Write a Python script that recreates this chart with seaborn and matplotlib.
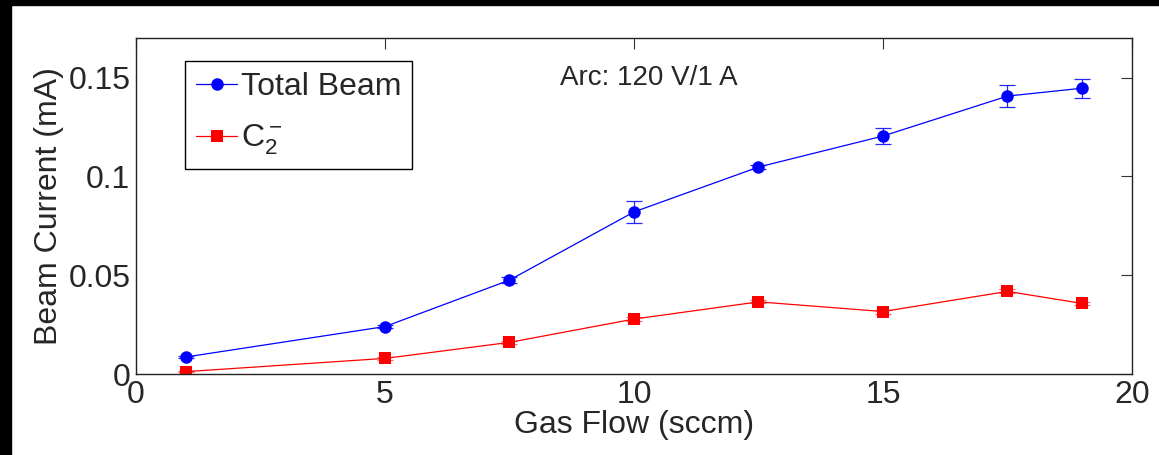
import matplotlib
matplotlib.use("Agg")
import matplotlib.pyplot as plt
import seaborn as sns
import pandas as pd
from matplotlib.patches import Rectangle

# values
gas_flow = [1, 5, 7.5, 10, 12.5, 15, 17.5, 19]
total_beam = [0.0086, 0.0240, 0.0475, 0.0820, 0.1047, 0.1204, 0.1406, 0.1446]
total_beam_err = [0.0006, 0.0008, 0.0016, 0.0056, 0.0012, 0.0042, 0.0054, 0.0049]
c2_beam = [0.0012, 0.0079, 0.0160, 0.0278, 0.0365, 0.0316, 0.0418, 0.0357]
c2_beam_err = [0.0004, 0.0006, 0.0008, 0.0012, 0.0008, 0.0010, 0.0010, 0.0008]

x_ticks = [0, 5, 10, 15, 20]
y_ticks = [0, 0.05, 0.1, 0.15]
y_tick_labels = ["0", "0.05", "0.1", "0.15"]

sns.set_style("white")
plt.rcParams["font.family"] = ["Liberation Sans", "DejaVu Sans"]
plt.rcParams["mathtext.fontset"] = "custom"
plt.rcParams["mathtext.rm"] = "Liberation Sans"
plt.rcParams["mathtext.it"] = "Liberation Sans"

FONT_SIZE = 23
C2_LABEL = r"$\mathregular{C_2^-}$"

df = pd.DataFrame({
    "flow": gas_flow * 2,
    "current": total_beam + c2_beam,
    "series": ["Total Beam"] * len(gas_flow) + [C2_LABEL] * len(gas_flow),
})

fig = plt.figure(figsize=(11.59, 4.55), dpi=100)
ax = fig.add_axes([0.1173, 0.178, 0.8594, 0.7385])

palette = {"Total Beam": "#0000ff", C2_LABEL: "#ff0000"}
sns.lineplot(
    data=df, x="flow", y="current", hue="series", style="series",
    palette=palette, markers={"Total Beam": "o", C2_LABEL: "s"},
    dashes=False, linewidth=0.9, markersize=9, markeredgewidth=0,
    ax=ax,
)
# error bars
ax.errorbar(gas_flow, total_beam, yerr=total_beam_err, fmt="none",
            ecolor="#0000ff", elinewidth=0.9, capsize=6, capthick=0.9, alpha=0.85)
ax.errorbar(gas_flow, c2_beam, yerr=c2_beam_err, fmt="none",
            ecolor="#ff0000", elinewidth=0.9, capsize=6, capthick=0.9, alpha=0.6)

ax.set_xlim(0, 20)
ax.set_ylim(0, 0.17)
ax.set_xticks(x_ticks)
ax.set_yticks(y_ticks)
ax.set_yticklabels(y_tick_labels)
ax.tick_params(direction="in", length=8, width=0.8, labelsize=FONT_SIZE,
               top=True, right=True, pad=4, color="#333333")
for sp in ax.spines.values():
    sp.set_visible(True)
    sp.set_color("#222222")
    sp.set_linewidth(1.0)

ax.set_xlabel("Gas Flow (sccm)", fontsize=FONT_SIZE, labelpad=0)
ax.set_ylabel("Beam Current (mA)", fontsize=FONT_SIZE, labelpad=3)

ax.text(10.3, 0.150, "Arc: 120 V/1 A", fontsize=20, ha="center", va="center")

leg = ax.legend(loc="upper left", bbox_to_anchor=(0.049, 0.9315), borderaxespad=0,
                fontsize=FONT_SIZE, frameon=True, fancybox=False, handlelength=1.3,
                handletextpad=0.1, borderpad=0.35, labelspacing=0.65, title=None)
leg.get_frame().set_edgecolor("black")
leg.get_frame().set_linewidth(1.0)
leg.get_frame().set_alpha(1)

# black strips at the top and left edge of the screenshot
fig.patches.append(Rectangle((0, 1 - 5 / 455), 1, 5 / 455, transform=fig.transFigure,
                             color="black", zorder=10))
fig.patches.append(Rectangle((0, 0), 11 / 1159, 1, transform=fig.transFigure,
                             color="black", zorder=10))

fig.savefig("out.png", dpi=100)
